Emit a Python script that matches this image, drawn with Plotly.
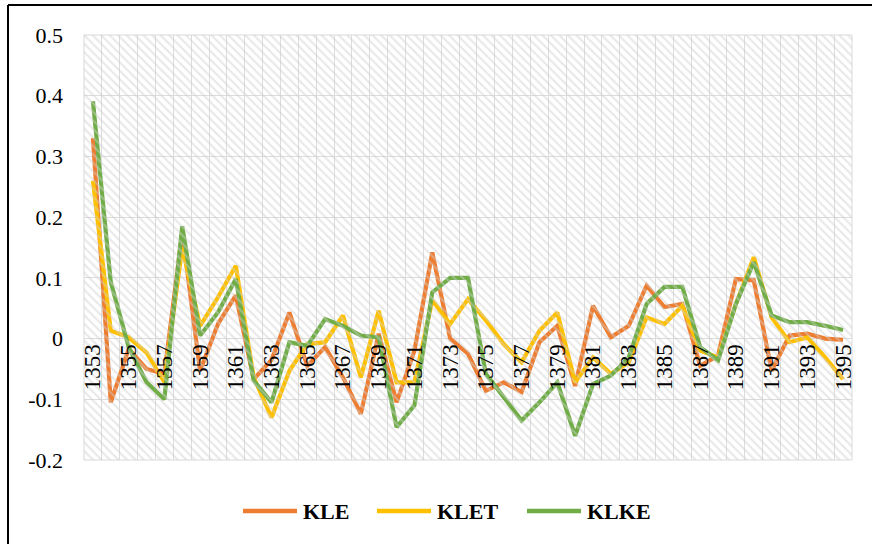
import plotly.graph_objects as go

years = list(range(1353, 1396))

kle = [0.33, -0.105, -0.017, -0.05, -0.058, 0.175, -0.053, 0.024, 0.071, -0.067,
       -0.035, 0.043, -0.045, -0.014, -0.064, -0.124, 0.008, -0.105, -0.02, 0.142,
       0.0, -0.025, -0.086, -0.072, -0.088, -0.006, 0.021, -0.078, 0.054, 0.002,
       0.021, 0.087, 0.052, 0.057, -0.045, -0.028, 0.098, 0.096, -0.053, 0.005,
       0.008, 0.0, -0.002]

klet = [0.26, 0.013, 0.002, -0.023, -0.072, 0.15, 0.021, 0.068, 0.12, -0.064,
        -0.13, -0.053, -0.009, -0.006, 0.038, -0.064, 0.046, -0.072, -0.072, 0.063,
        0.024, 0.065, 0.03, -0.009, -0.039, 0.013, 0.043, -0.072, -0.031, -0.058,
        -0.039, 0.035, 0.024, 0.054, -0.02, -0.031, 0.057, 0.134, 0.035, -0.006,
        0.002, -0.031, -0.067]

klke = [0.391, 0.093, -0.014, -0.072, -0.10, 0.185, 0.005, 0.043, 0.098, -0.069,
        -0.105, -0.006, -0.012, 0.032, 0.021, 0.005, 0.002, -0.146, -0.11, 0.076,
        0.10, 0.10, -0.058, -0.097, -0.135, -0.105, -0.072, -0.16, -0.075, -0.061,
        -0.031, 0.057, 0.085, 0.085, -0.014, -0.036, 0.057, 0.126, 0.038, 0.027,
        0.027, 0.021, 0.014]

series_names = ["KLE", "KLET", "KLKE"]
series_colors = ["#ED7D31", "#FFC000", "#70AD47"]

x_tick_vals = years[::2]
x_tick_text = [str(y) for y in x_tick_vals]
y_tick_vals = [-0.2, -0.1, 0.0, 0.1, 0.2, 0.3, 0.4, 0.5]
y_tick_text = ["-0.2", "-0.1", "0", "0.1", "0.2", "0.3", "0.4", "0.5"]

y_min, y_max = -0.2, 0.5

W, H = 872, 544
ML, MR, MT, MB = 84, 20, 35, 84
PW, PH = W - ML - MR, H - MT - MB


def px_x(px):
    return (px - ML) / PW


def px_y(py):
    return (H - MB - py) / PH


fig = go.Figure()

# hatched plot-area background
fig.add_trace(go.Bar(
    x=[0.5], y=[y_max - y_min], base=[y_min], width=[1.0],
    xaxis="x2", yaxis="y",
    marker=dict(color="rgba(0,0,0,0)", line=dict(width=0),
                pattern=dict(shape="\\", fgcolor="#cfcfcf", bgcolor="rgba(0,0,0,0)",
                             size=6, solidity=0.33)),
    showlegend=False, hoverinfo="skip",
))

for name, vals, col in zip(series_names, [kle, klet, klke], series_colors):
    fig.add_trace(go.Scatter(
        x=years, y=vals, name=name, mode="lines",
        line=dict(color=col, width=4.2),
        showlegend=False,
    ))

font_family = "Liberation Serif, Times New Roman, serif"

# manual legend
legend_line_starts = [243, 377, 527]
legend_y = px_y(511)
shapes = [
    dict(type="rect", xref="paper", yref="paper", x0=0, x1=1, y0=0, y1=1,
         line=dict(color="#d9d9d9", width=1), fillcolor="rgba(0,0,0,0)", layer="below"),
    dict(type="line", xref="paper", yref="paper", x0=px_x(8), x1=px_x(900), y0=px_y(5), y1=px_y(5),
         line=dict(color="black", width=2)),
    dict(type="line", xref="paper", yref="paper", x0=px_x(8), x1=px_x(8), y0=px_y(5), y1=px_y(560),
         line=dict(color="black", width=2)),
]
annotations = []
for name, col, sx in zip(series_names, series_colors, legend_line_starts):
    shapes.append(dict(type="line", xref="paper", yref="paper",
                       x0=px_x(sx), x1=px_x(sx + 54), y0=legend_y, y1=legend_y,
                       line=dict(color=col, width=4.5)))
    annotations.append(dict(xref="paper", yref="paper", x=px_x(sx + 58), y=legend_y,
                            xanchor="left", yanchor="middle", showarrow=False,
                            text="<b>%s</b>" % name,
                            font=dict(family=font_family, size=22, color="black")))

fig.update_layout(
    width=W, height=H,
    margin=dict(l=ML, r=MR, t=MT, b=MB),
    paper_bgcolor="white", plot_bgcolor="white",
    font=dict(family=font_family, size=22, color="black"),
    showlegend=False,
    xaxis=dict(
        range=[years[0] - 0.5, years[-1] + 0.5],
        tickmode="array", tickvals=x_tick_vals, ticktext=x_tick_text,
        tickangle=-90, showgrid=False, zeroline=False,
        anchor="free", position=(0 - y_min) / (y_max - y_min),
        ticks="", showline=False,
        tickfont=dict(family=font_family, size=23, color="black"),
        minor=dict(tickmode="linear", tick0=years[0] - 0.5, dtick=1,
                   showgrid=True, gridcolor="#dcdcdc", gridwidth=1, ticks=""),
    ),
    xaxis2=dict(range=[0, 1], overlaying="x", visible=False, showgrid=False),
    yaxis=dict(
        range=[y_min, y_max], tickmode="array", tickvals=y_tick_vals, ticktext=y_tick_text,
        showgrid=True, gridcolor="#dcdcdc", gridwidth=1, zeroline=False,
        ticks="", ticklabelstandoff=20,
        tickfont=dict(family=font_family, size=22, color="black"),
    ),
    bargap=0,
    shapes=shapes,
    annotations=annotations,
)

fig.write_html("out.html", config={"displayModeBar": False},
               post_script="document.body.style.margin='0px';")
